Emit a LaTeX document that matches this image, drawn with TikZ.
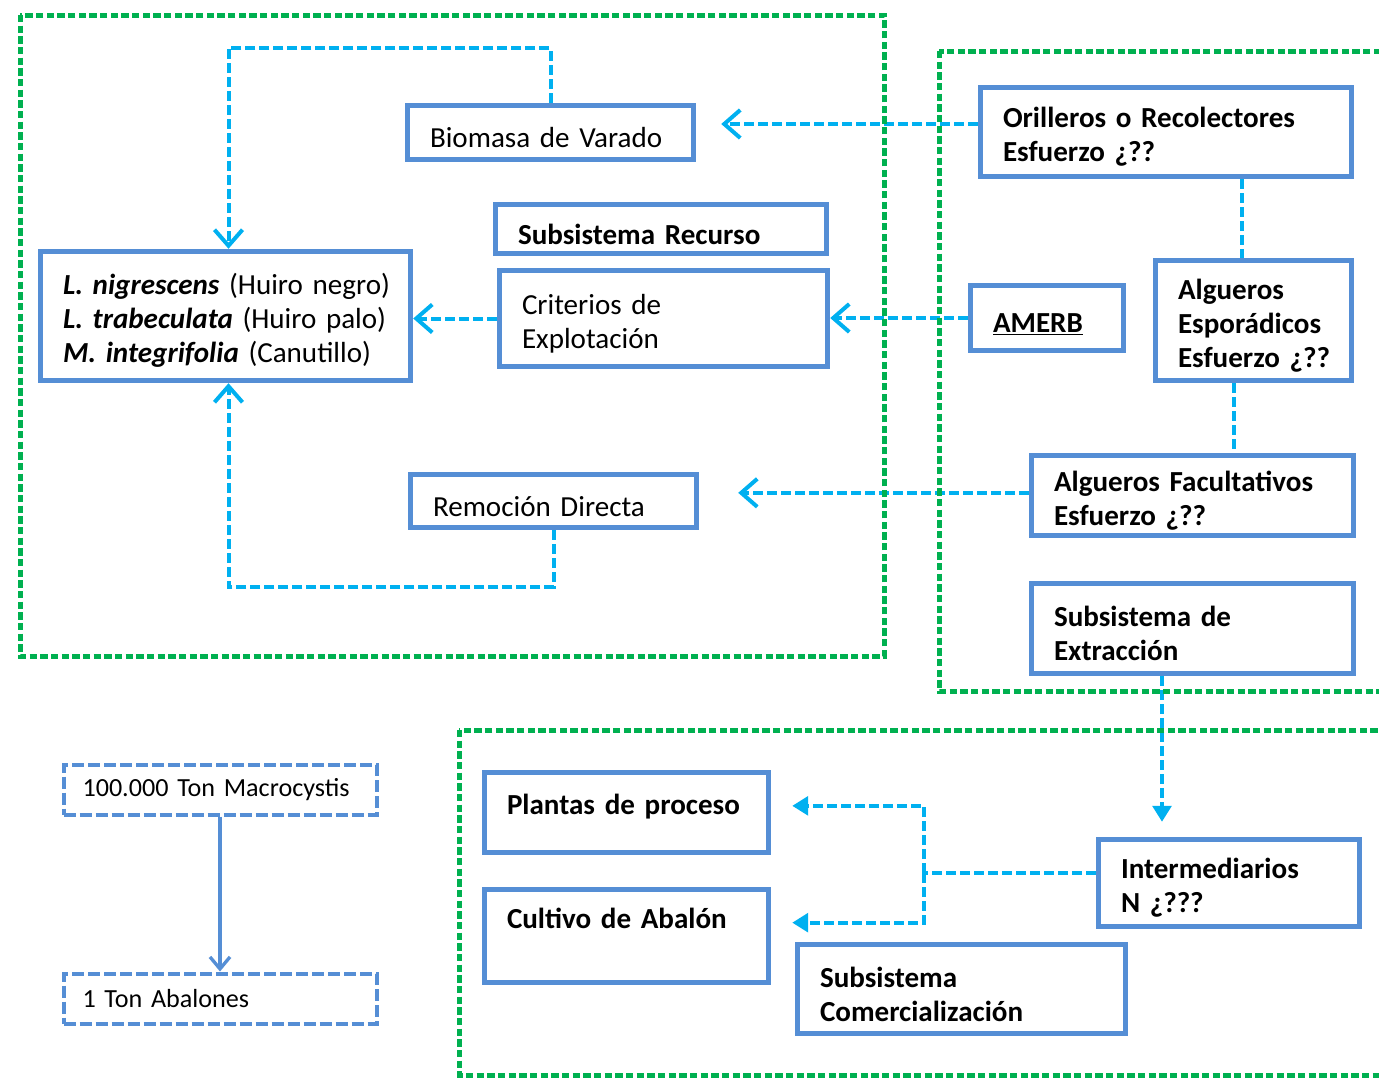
\documentclass[tikz,border=0pt]{standalone}
\usepackage{fontspec}
\setmainfont{Carlito}
\usetikzlibrary{arrows.meta}
\newdimen\px \px=0.75pt
\definecolor{gr}{RGB}{0,176,80}
\definecolor{bb}{RGB}{85,142,213}
\definecolor{cy}{RGB}{0,176,240}
\begin{document}
\begin{tikzpicture}[x=0.75pt,y=-0.75pt,
  font=\fontsize{21.8}{25.5}\selectfont,
  grp/.style={draw=gr, line width=3.75pt, dash pattern=on 5.5pt off 2.5pt},
  bx/.style={draw=bb, line width=4.1pt, inner xsep=22.5\px, inner ysep=2\px, align=left, text height=23pt},
  dbx/.style={draw=bb, line width=3pt, dash pattern=on 9pt off 3pt, inner xsep=19\px, inner ysep=2\px, align=left, font=\fontsize{19.6}{24}\selectfont},
  conn/.style={draw=cy, line width=3pt, dash pattern=on 7.5pt off 3pt},
  ab/.style={-{Straight Barb[length=12pt,width=21pt]}},
  tri/.style={-{Triangle[length=12pt,width=14pt]}},
  sarr/.style={draw=bb, line width=2.5pt, -{Straight Barb[length=9pt,width=15pt]}}
]
\useasboundingbox (0,0) rectangle (1379,1079);
\clip (0,0) rectangle (1379,1079);

% boxes
\node[bx, minimum width=286\px, minimum height=54\px, text width=241\px] (bio) at (550.5,132.5) {\mbox{Biomasa de Varado}};
\node[bx, minimum width=331\px, minimum height=49\px, text width=286\px] (subrec) at (661,229) {\mbox{\textbf{Subsistema Recurso}}};
\node[bx, minimum width=328\px, minimum height=96\px, text width=283\px] (crit) at (663.5,318.5) {Criterios de\\Explotación};
\node[bx, minimum width=370\px, minimum height=129\px, text width=325\px] (lam) at (225.5,316) {\mbox{\textbf{\textit{L. nigrescens}} (Huiro negro)}\\\mbox{\textbf{\textit{L. trabeculata}} (Huiro palo)}\\\mbox{\textbf{\textit{M. integrifolia}} (Canutillo)}};
\node[bx, minimum width=286\px, minimum height=53\px, text width=241\px] (rem) at (553.5,501) {\mbox{Remoción Directa}};
\node[bx, minimum width=371\px, minimum height=89\px, text width=326\px] (ori) at (1166,132) {\mbox{\textbf{Orilleros o Recolectores}}\\\textbf{Esfuerzo ¿??}};
\node[bx, minimum width=153\px, minimum height=65\px, text width=108\px] (amerb) at (1047,318) {\textbf{\underline{AMERB}}};
\node[bx, minimum width=196\px, minimum height=120\px, text width=151\px] (espo) at (1253.5,320.5) {\textbf{Algueros}\\\textbf{Esporádicos}\\\mbox{\textbf{Esfuerzo ¿??}}};
\node[bx, minimum width=322\px, minimum height=80\px, text width=277\px] (facu) at (1192.5,495.5) {\mbox{\textbf{Algueros Facultativos}}\\\textbf{Esfuerzo ¿??}};
\node[bx, minimum width=322\px, minimum height=90\px, text width=277\px] (extr) at (1192.5,628.5) {\textbf{Subsistema de}\\\textbf{Extracción}};
\node[bx, minimum width=284\px, minimum height=80\px, text width=239\px] (plan) at (626.5,812.5) {\mbox{\textbf{Plantas de proceso}}\\[-5.25pt]\mbox{}};
\node[bx, minimum width=284\px, minimum height=93\px, text width=239\px] (cult) at (626.5,936) {\mbox{\textbf{Cultivo de Abalón}}\\[9pt]\mbox{}};
\node[bx, minimum width=261\px, minimum height=87\px, text width=216\px] (inter) at (1229,883) {\textbf{Intermediarios}\\\textbf{N ¿???}};
\node[bx, minimum width=328\px, minimum height=89\px, text width=283\px] (comer) at (961.5,989) {\textbf{Subsistema}\\\mbox{\textbf{Comercialización}}};
\node[dbx, minimum width=313\px, minimum height=50\px, text width=275\px] (macro) at (220,789.5) {\mbox{100.000 Ton Macrocystis}};
\node[dbx, minimum width=313\px, minimum height=50\px, text width=275\px] (abal) at (220,998.5) {\mbox{1 Ton Abalones}};

% connectors
\coordinate (c1) at (228.5,48);
\coordinate (c2) at (228.5,587);
\coordinate (v1) at (1242,0);
\coordinate (v2) at (1234,0);
\coordinate (v3) at (1162,0);
\coordinate (j) at (924,873);
\draw[conn,ab] (bio.north) |- (c1) -- (c1 |- lam.north);
\draw[conn,ab] (crit.west) -- (crit.west -| lam.east);
\draw[conn,ab] (rem.south) |- (c2) -- (c2 |- lam.south);
\draw[conn,ab,shorten >=25\px] ([yshift=6pt]ori.west) -- ([yshift=6pt]ori.west -| bio.east);
\draw[conn,ab] (amerb.west) -- (amerb.west -| crit.east);
\draw[conn,ab,shorten >=39\px] ([yshift=2pt]facu.west) -- ([yshift=2pt]facu.west -| rem.east);
\draw[conn] (ori.south -| v1) -- (espo.north -| v1);
\draw[conn] (espo.south -| v2) -- (facu.north -| v2);
\draw[conn,tri,shorten >=15\px] (extr.south -| v3) -- (inter.north -| v3);
\draw[conn] ([yshift=7.5pt]inter.west) -- (j);
\draw[conn,tri,shorten >=21\px] (j) |- ([yshift=5pt]plan.east);
\draw[conn,tri,shorten >=21\px] (j) |- ([yshift=10pt]cult.east);
\draw[sarr] (macro.south) -- (abal.north);

% subsystem frames
\draw[grp] (20,15) rectangle (884,656);
\draw[grp] (939,51) rectangle (1400,691);
\draw[grp] (459,730) rectangle (1400,1075);
\end{tikzpicture}
\end{document}
